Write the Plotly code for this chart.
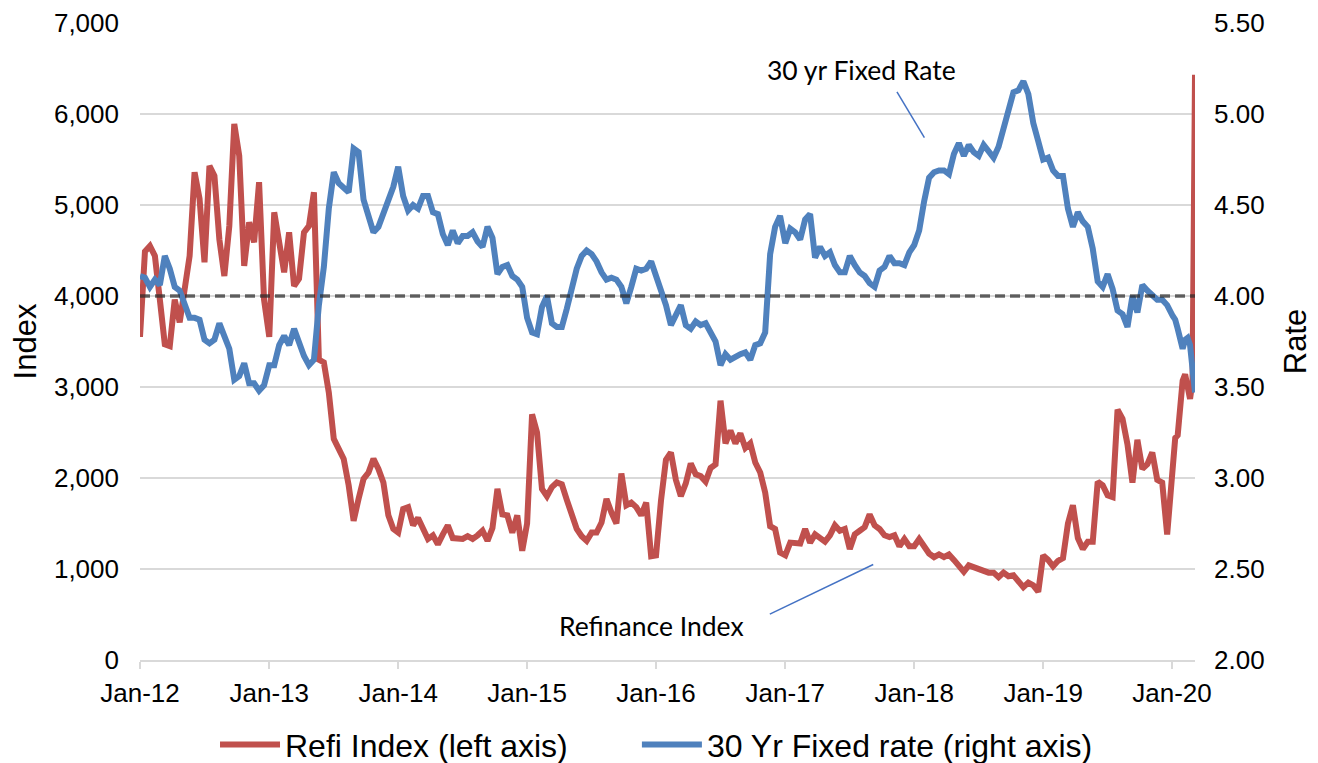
import pandas as pd
import plotly.graph_objects as go

# ---- data, biweekly samples per year ----
years = [2012, 2013, 2014, 2015, 2016, 2017, 2018, 2019]

refi_2012 = [3550, 4490, 4550, 4440, 3960, 3470, 3450, 3960, 3710, 4110, 4440, 5360, 5070,
             4370, 5430, 5320, 4620, 4220, 4770, 5890, 5540, 4330, 4810, 4590, 5250, 3960]
refi_2013 = [3550, 4920, 4550, 4260, 4700, 4110, 4190, 4700, 4770, 5140, 3300, 3270, 2940,
             2430, 2320, 2210, 1920, 1530, 1770, 1990, 2060, 2210, 2100, 1950, 1590, 1440]
refi_2014 = [1400, 1660, 1680, 1480, 1560, 1440, 1330, 1370, 1270, 1380, 1480, 1340, 1330,
             1330, 1360, 1330, 1370, 1420, 1310, 1450, 1880, 1600, 1590, 1400, 1590, 1200]
refi_2015 = [1500, 2700, 2500, 1880, 1800, 1900, 1950, 1930, 1760, 1600, 1440, 1360, 1310,
             1400, 1400, 1510, 1770, 1620, 1500, 2050, 1700, 1730, 1680, 1590, 1730, 1140]
refi_2016 = [1150, 1750, 2200, 2280, 1980, 1800, 1940, 2160, 2040, 2020, 1960, 2110, 2150,
             2850, 2380, 2520, 2380, 2490, 2330, 2380, 2170, 2060, 1840, 1470, 1440, 1180]
refi_2017 = [1150, 1290, 1290, 1280, 1440, 1290, 1380, 1340, 1300, 1370, 1480, 1420, 1440,
             1220, 1380, 1420, 1460, 1600, 1480, 1440, 1370, 1350, 1370, 1250, 1330, 1250]
refi_2018 = [1250, 1330, 1260, 1170, 1130, 1160, 1130, 1160, 1100, 1030, 970, 1040, 1020,
             990, 980, 960, 960, 910, 960, 920, 930, 870, 800, 850, 820, 750]
refi_2019 = [1150, 1100, 1030, 1090, 1120, 1500, 1700, 1340, 1220, 1300, 1300, 1960, 1920,
             1810, 1790, 2750, 2650, 2370, 1950, 2420, 2100, 2150, 2280, 1980, 1950, 1380]

rate_2012 = [4.11, 4.10, 4.05, 4.09, 4.06, 4.22, 4.15, 4.05, 4.03, 3.95, 3.88, 3.88, 3.87,
             3.76, 3.74, 3.76, 3.85, 3.78, 3.71, 3.54, 3.56, 3.63, 3.52, 3.52, 3.48, 3.51]
rate_2013 = [3.62, 3.62, 3.73, 3.78, 3.73, 3.82, 3.74, 3.67, 3.62, 3.65, 3.95, 4.16, 4.48,
             4.68, 4.62, 4.60, 4.57, 4.81, 4.79, 4.53, 4.44, 4.35, 4.38, 4.46, 4.53, 4.60]
rate_2014 = [4.71, 4.55, 4.47, 4.50, 4.48, 4.55, 4.55, 4.46, 4.45, 4.34, 4.28, 4.36, 4.29,
             4.33, 4.33, 4.35, 4.30, 4.27, 4.38, 4.32, 4.12, 4.16, 4.17, 4.11, 4.09, 4.05]
rate_2015 = [3.88, 3.80, 3.79, 3.94, 4.00, 3.85, 3.83, 3.83, 3.93, 4.06, 4.15, 4.22, 4.25,
             4.23, 4.19, 4.13, 4.09, 4.10, 4.09, 4.05, 3.96, 4.05, 4.15, 4.14, 4.15, 4.19]
rate_2016 = [4.11, 4.05, 3.95, 3.84, 3.89, 3.95, 3.84, 3.82, 3.86, 3.84, 3.85, 3.80, 3.75,
             3.62, 3.68, 3.65, 3.67, 3.68, 3.69, 3.65, 3.73, 3.74, 3.80, 4.23, 4.38, 4.44]
rate_2017 = [4.29, 4.37, 4.35, 4.31, 4.42, 4.45, 4.21, 4.27, 4.22, 4.24, 4.17, 4.13, 4.13,
             4.22, 4.17, 4.13, 4.11, 4.07, 4.05, 4.14, 4.16, 4.22, 4.18, 4.18, 4.17, 4.24]
rate_2018 = [4.28, 4.36, 4.52, 4.65, 4.68, 4.69, 4.69, 4.67, 4.78, 4.84, 4.77, 4.83, 4.79,
             4.77, 4.83, 4.79, 4.76, 4.82, 4.93, 5.03, 5.12, 5.13, 5.18, 5.11, 4.95, 4.85]
rate_2019 = [4.75, 4.76, 4.69, 4.66, 4.66, 4.48, 4.38, 4.46, 4.41, 4.38, 4.26, 4.08, 4.05,
             4.12, 4.04, 3.92, 3.90, 3.83, 4.00, 3.91, 4.06, 4.03, 4.00, 3.98, 3.98, 3.95]

# 2020: weekly
dates_2020 = ["2020-01-03", "2020-01-10", "2020-01-17", "2020-01-24", "2020-01-31",
              "2020-02-07", "2020-02-14", "2020-02-21", "2020-02-28", "2020-03-06"]
refi_2020 = [2280, 2440, 2470, 2750, 3070, 3140, 3000, 2870, 3070, 6430]
rate_2020 = [3.89, 3.87, 3.82, 3.75, 3.71, 3.76, 3.77, 3.73, 3.57, 3.47]

threshold = 4000  # dashed reference line (4,000 on left = 4.00% on right)

tick_years = ["2012-01-01", "2013-01-01", "2014-01-01", "2015-01-01", "2016-01-01",
              "2017-01-01", "2018-01-01", "2019-01-01", "2020-01-01"]

# ---- assemble series ----
refi_by_year = [refi_2012, refi_2013, refi_2014, refi_2015, refi_2016, refi_2017, refi_2018, refi_2019]
rate_by_year = [rate_2012, rate_2013, rate_2014, rate_2015, rate_2016, rate_2017, rate_2018, rate_2019]

dates, refi, rate = [], [], []
for y, rv, fv in zip(years, refi_by_year, rate_by_year):
    start = pd.Timestamp(f"{y}-01-01")
    for k in range(len(rv)):
        dates.append(start + pd.Timedelta(days=365.25 * k / len(rv)))
    refi += rv
    rate += fv
dates += [pd.Timestamp(d) for d in dates_2020]
refi += refi_2020
rate += rate_2020

RED = "#C0504D"
BLUE = "#4F81BD"
GRID = "#D9D9D9"
TXT = "#000000"

fig = go.Figure()
fig.add_trace(go.Scatter(x=dates, y=refi, mode="lines", name="Refi Index (left axis)",
                         line=dict(color=RED, width=6), yaxis="y", legend="legend"))
fig.add_trace(go.Scatter(x=dates, y=rate, mode="lines", name="30 Yr Fixed rate (right axis)",
                         line=dict(color=BLUE, width=6), yaxis="y2", legend="legend2"))

fig.add_shape(type="line", xref="paper", x0=0, x1=1, yref="y", y0=threshold, y1=threshold,
              line=dict(color="rgba(40,40,40,0.7)", width=3.5, dash="10px,5px"), layer="above")

# annotations with leader lines
fig.add_annotation(text="30 yr Fixed Rate", xref="paper", yref="paper", x=0.684, y=0.926,
                   xanchor="center", yanchor="middle", showarrow=False,
                   font=dict(family="Lato", size=26.5, color=TXT))
fig.add_shape(type="line", xref="paper", yref="paper", x0=0.7175, y0=0.892, x1=0.7435, y1=0.820,
              line=dict(color="#4472C4", width=1.5))
fig.add_annotation(text="Refinance Index", xref="paper", yref="paper", x=0.485, y=0.053,
                   xanchor="center", yanchor="middle", showarrow=False,
                   font=dict(family="Lato", size=26.5, color=TXT))
fig.add_shape(type="line", xref="paper", yref="paper", x0=0.597, y0=0.072, x1=0.695, y1=0.150,
              line=dict(color="#4472C4", width=1.5))

legend_common = dict(orientation="h", xanchor="left", y=-0.133, yanchor="middle",
                     font=dict(size=32, color=TXT), bgcolor="rgba(0,0,0,0)", itemwidth=60)

fig.update_layout(
    width=1318, height=763,
    margin=dict(l=132, r=131, t=15, b=111, autoexpand=False),
    paper_bgcolor="white", plot_bgcolor="white",
    font=dict(family="Liberation Sans, Arial", size=26, color=TXT),
    showlegend=True,
    legend=dict(x=0.0711, **legend_common),
    legend2=dict(x=0.471, **legend_common),
    xaxis=dict(type="date", range=["2012-01-01", "2020-03-06"], tickvals=tick_years,
               tickformat="%b-%y", showgrid=False, showline=True, linecolor=GRID, linewidth=2,
               ticks="outside", ticklen=7, tickcolor=GRID, tickwidth=2, automargin=False,
               tickfont=dict(size=26, color=TXT), zeroline=False, ticklabelstandoff=2),
    yaxis=dict(range=[0, 7000], dtick=1000, tickformat=",", showgrid=True, gridcolor=GRID,
               gridwidth=2, zeroline=False, showline=False, ticks="", automargin=False,
               tickfont=dict(size=26, color=TXT), ticklabelstandoff=20,
               title=dict(text="Index", font=dict(size=31, color=TXT), standoff=12)),
    yaxis2=dict(range=[2, 5.5], dtick=0.5, tickformat=".2f", overlaying="y", side="right",
                showgrid=False, zeroline=False, showline=False, ticks="", automargin=False,
                tickfont=dict(size=26, color=TXT), ticklabelstandoff=18,
                title=dict(text="Rate", font=dict(size=31, color=TXT), standoff=20)),
)

fig.write_html("out.html")
